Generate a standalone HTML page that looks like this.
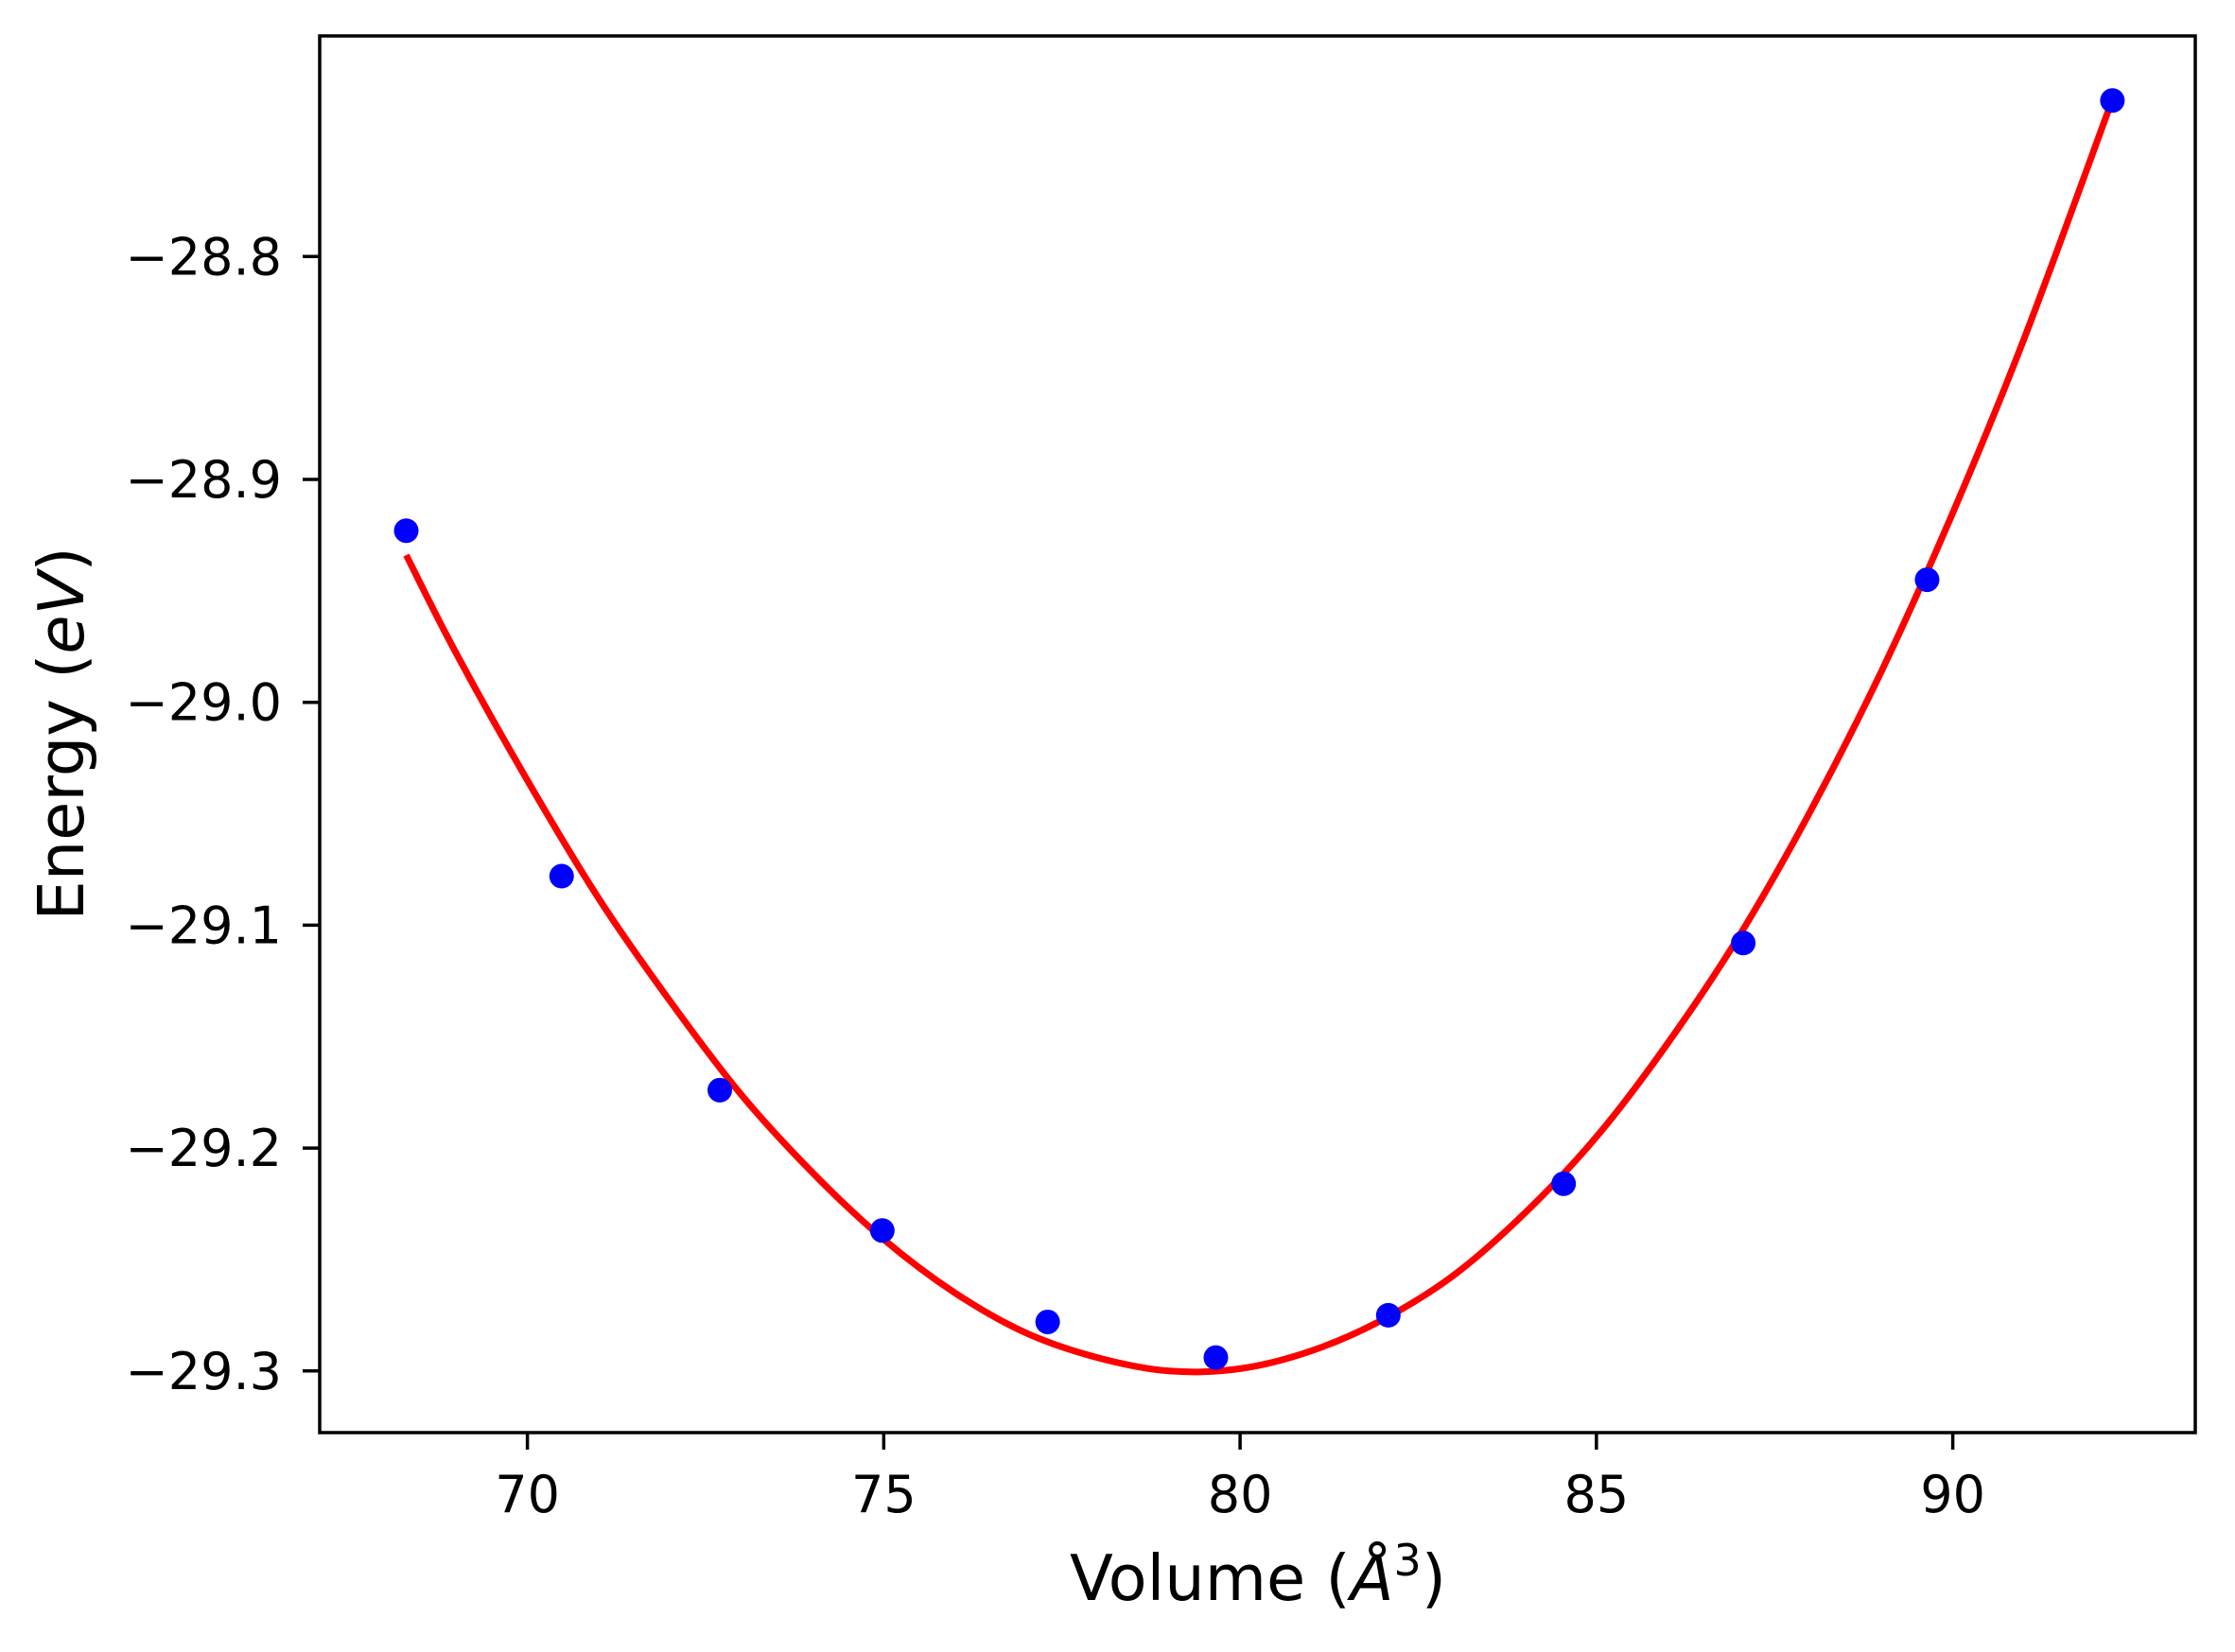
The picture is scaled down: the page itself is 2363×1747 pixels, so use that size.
<!DOCTYPE html>
<html><head><meta charset="utf-8"><style>
html,body{margin:0;padding:0;background:#fff;}
svg{display:block;font-family:"DejaVu Sans","Liberation Sans",sans-serif;}
</style></head><body>
<svg id="chart" width="2363" height="1747" viewBox="0 0 2363 1747" xmlns="http://www.w3.org/2000/svg">
<rect x="0" y="0" width="2363" height="1747" fill="#fff"/>
<g id="plot"></g>
<rect x="338" y="38" width="1983" height="1477" fill="none" stroke="#000" stroke-width="3.5"/>
<g id="xticks"></g>
<g id="yticks"></g>
<text x="1330" y="1692" text-anchor="middle" font-size="67">Volume (<tspan font-style="italic">Å</tspan><tspan font-size="46" dy="-26">3</tspan><tspan dy="26">)</tspan></text>
<text transform="translate(88,776) rotate(-90)" text-anchor="middle" font-size="67">Energy (<tspan font-style="italic">eV</tspan>)</text>
</svg>
<script>
const pointVolumes=[68.3,70.48,72.7,74.98,77.3,79.66,82.08,84.54,87.06,89.64,92.24];
const pointEnergies=[-28.923,-29.078,-29.174,-29.237,-29.278,-29.294,-29.275,-29.216,-29.108,-28.945,-28.730];
const fitVolumes=[68.3,69,70,71,72,73,74,75,76,77,78,79,80,81,82,83,84,85,86,87,88,89,90,91,92.2];
const fitEnergies=[-28.934,-28.978,-29.035,-29.088,-29.134,-29.176,-29.211,-29.241,-29.265,-29.283,-29.294,-29.300,-29.299,-29.291,-29.277,-29.257,-29.229,-29.195,-29.153,-29.105,-29.049,-28.986,-28.915,-28.837,-28.733];
const xTicks=[70,75,80,85,90];
const yTicks=[-28.8,-28.9,-29.0,-29.1,-29.2,-29.3];
const yTickLabels=["\u221228.8","\u221228.9","\u221229.0","\u221229.1","\u221229.2","\u221229.3"];

const NS="http://www.w3.org/2000/svg";
function xs(v){return 557.6+(v-70)*75.35;}
function ys(e){return 271.3+(-28.8-e)*2357;}
function mk(tag,attrs,parent){const el=document.createElementNS(NS,tag);for(const k in attrs)el.setAttribute(k,attrs[k]);parent.appendChild(el);return el;}

const plot=document.getElementById('plot');
const P=fitVolumes.map((v,i)=>[xs(v),ys(fitEnergies[i])]);
let d='M'+P[0][0].toFixed(1)+' '+P[0][1].toFixed(1);
for(let i=0;i<P.length-1;i++){
  const p0=P[Math.max(0,i-1)],p1=P[i],p2=P[i+1],p3=P[Math.min(P.length-1,i+2)];
  const c1=[p1[0]+(p2[0]-p0[0])/6,p1[1]+(p2[1]-p0[1])/6];
  const c2=[p2[0]-(p3[0]-p1[0])/6,p2[1]-(p3[1]-p1[1])/6];
  d+='C'+c1[0].toFixed(1)+' '+c1[1].toFixed(1)+' '+c2[0].toFixed(1)+' '+c2[1].toFixed(1)+' '+p2[0].toFixed(1)+' '+p2[1].toFixed(1);
}
const line=mk('path',{d:d,fill:'none',stroke:'#ff0000','stroke-width':7,'stroke-linejoin':'round'},plot);


pointVolumes.forEach((v,i)=>{
  const c=mk('circle',{cx:xs(v),cy:ys(pointEnergies[i]),r:13,fill:'#0000ff'},plot);
  
  
});

const xg=document.getElementById('xticks');
xTicks.forEach(t=>{
  const l=mk('line',{x1:xs(t),x2:xs(t),y1:1515,y2:1533,stroke:'#000','stroke-width':3.5},xg);
  
  
  const tx=mk('text',{x:xs(t),y:1599,'text-anchor':'middle','font-size':54},xg);
  
  
  tx.textContent=String(t);
});
const yg=document.getElementById('yticks');
yTicks.forEach((t,i)=>{
  const l=mk('line',{x1:320,x2:338,y1:ys(t),y2:ys(t),stroke:'#000','stroke-width':3.5},yg);
  
  
  const tx=mk('text',{x:298,y:ys(t)+19,'text-anchor':'end','font-size':54},yg);
  
  
  tx.textContent=yTickLabels[i];
});
</script>
</body></html>
